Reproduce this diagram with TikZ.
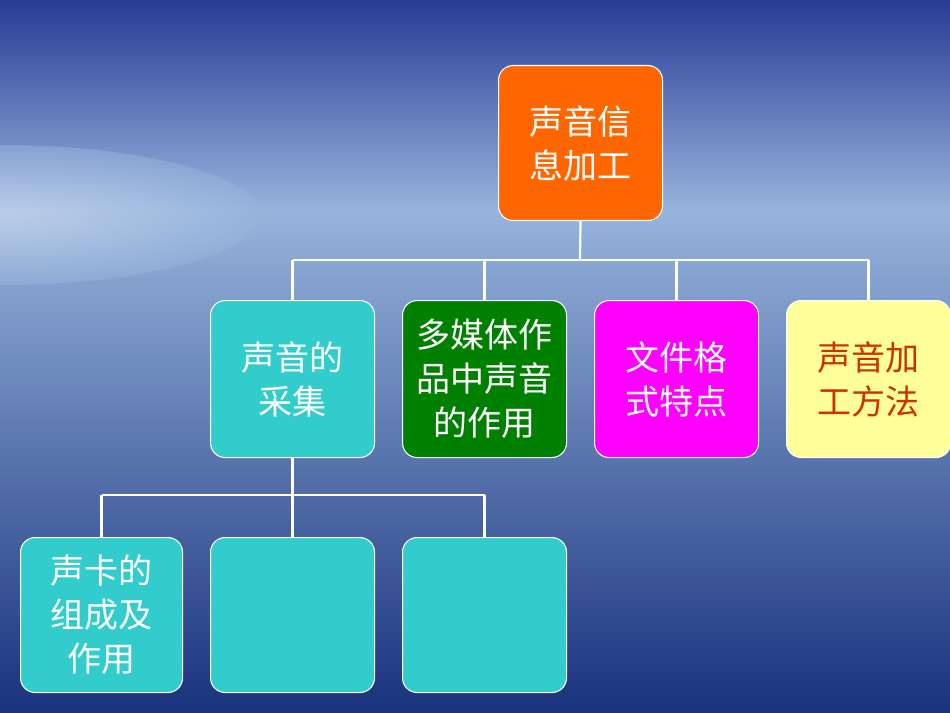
\documentclass[tikz,border=0pt]{standalone}
\usepackage{fontspec}
\setmainfont{Noto Sans CJK SC}
\begin{document}
\begin{tikzpicture}[x=0.75pt,y=-0.75pt,
  box/.style={draw=white,line width=0.8pt,rounded corners=11pt,minimum width=164*0.75pt,minimum height=157*0.75pt,inner sep=2pt,align=center,font=\fontsize{25.5}{33}\selectfont,anchor=north west},
  link/.style={draw=white,line width=1.6pt}]
\definecolor{skytop}{RGB}{40,60,150}
\definecolor{horizon}{RGB}{150,180,220}
\definecolor{sea}{RGB}{25,50,125}
\definecolor{teal}{RGB}{51,204,204}
\definecolor{dgreen}{RGB}{0,128,0}
\definecolor{lyellow}{RGB}{255,255,153}
\definecolor{orng}{RGB}{255,102,0}
\definecolor{mgnt}{RGB}{255,0,255}
\definecolor{dred}{RGB}{204,51,0}
\useasboundingbox (0,0) rectangle (950,713);
\shade[top color=skytop,bottom color=horizon] (0,0) rectangle (950,210);
\shade[top color=horizon,bottom color=sea] (0,210) rectangle (950,713);
\begin{scope}
\clip (0,0) rectangle (950,713);
\shade[inner color=white!70!horizon,outer color=horizon,opacity=0.5] (0,215) ellipse (260 and 70);
\end{scope}
\node[box,fill=orng,text=white,minimum height=155*0.75pt] (top) at (498,65) {声音信\\息加工};
\node[box,fill=teal,text=white] (a) at (210,300) {声音的\\采集};
\node[box,fill=dgreen,text=white] (b) at (402,300) {多媒体作\\品中声音\\的作用};
\node[box,fill=mgnt,text=white] (c) at (594,300) {文件格\\式特点};
\node[box,fill=lyellow,text=dred] (d) at (786,300) {声音加\\工方法};
\node[box,fill=teal,text=white,minimum width=162*0.75pt,minimum height=155*0.75pt] (e) at (20,537) {声卡的\\组成及\\作用};
\node[box,fill=teal,minimum height=155*0.75pt] (f) at (210,537) {};
\node[box,fill=teal,minimum height=155*0.75pt] (g) at (402,537) {};
\coordinate (j1) at (580,260);
\coordinate (j2) at (292,495);
\draw[link] (top.south) -- (j1);
\draw[link] (a.north |- j1) -- (d.north |- j1);
\foreach \n in {a,b,c,d} \draw[link] (\n.north |- j1) -- (\n.north);
\draw[link] (a.south) -- (a.south |- j2);
\draw[link] (e.north |- j2) -- (g.north |- j2);
\foreach \n in {e,f,g} \draw[link] (\n.north |- j2) -- (\n.north);
\end{tikzpicture}
\end{document}
